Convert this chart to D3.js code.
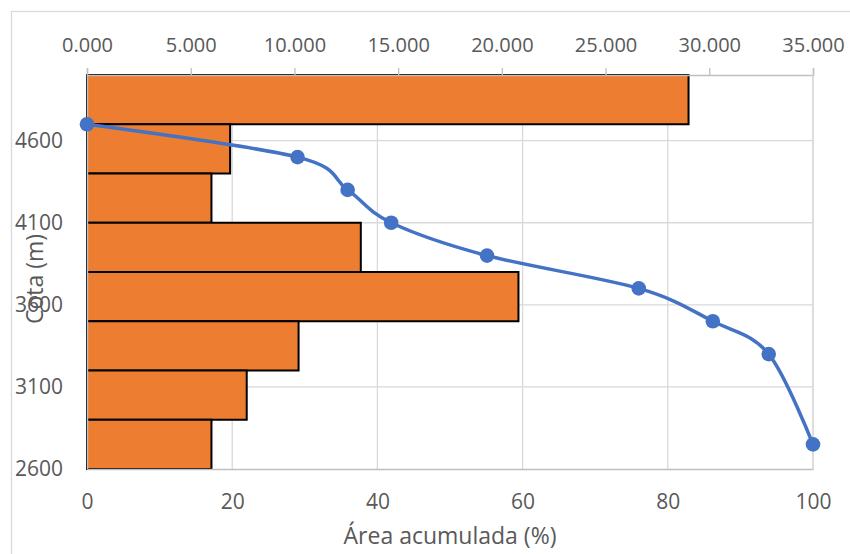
<!DOCTYPE html>
<html>
<head>
<meta charset="utf-8">
<script src="https://cdn.jsdelivr.net/npm/d3@7"></script>
<style>
  html, body { margin: 0; padding: 0; background: #fff; }
  svg { display: block; }
  text { font-family: "Open Sans", "Noto Sans", sans-serif; fill: #595959; }
</style>
</head>
<body>
<svg id="chart" width="850" height="554"></svg>
<script>
// ---- data ----
const bandCategories = ["Banda 1", "Banda 2", "Banda 3", "Banda 4", "Banda 5", "Banda 6", "Banda 7", "Banda 8"];
const bandAreaPct = [29.0, 6.9, 6.0, 13.2, 20.8, 10.2, 7.7, 6.0];
const cumulativeArea = [0, 29.0, 35.9, 41.9, 55.1, 76.0, 86.2, 93.9, 100];
const elevation = [4700, 4500, 4300, 4100, 3900, 3700, 3500, 3300, 2750];
const topTicks = [0, 5, 10, 15, 20, 25, 30, 35];
const bottomTicks = [0, 20, 40, 60, 80, 100];
const leftTicks = [2600, 3100, 3600, 4100, 4600];
const xTitle = "Área acumulada (%)";
const yTitle = "Cota (m)";

// ---- layout ----
const L = 87, R = 813, T = 75, B = 469;
const svg = d3.select("#chart");

// chart border
svg.append("rect").attr("x", 11.5).attr("y", 11.5).attr("width", 900).attr("height", 600)
  .attr("fill", "none").attr("stroke", "#d9d9d9").attr("stroke-width", 1.3);

const xTop = d3.scaleLinear().domain([0, 35]).range([L, R]);
const xBot = d3.scaleLinear().domain([0, 100]).range([L, R]);
const y = d3.scaleLinear().domain([2600, 5000]).range([B, T]);
const yBand = d3.scaleBand().domain(bandCategories).range([T, B]).padding(0);

// gridlines
const grid = svg.append("g").attr("stroke", "#d9d9d9").attr("stroke-width", 1.3);
grid.selectAll(".gv").data(bottomTicks.filter(d => d > 0)).join("line")
  .attr("x1", d => xBot(d)).attr("x2", d => xBot(d)).attr("y1", T).attr("y2", B);
grid.selectAll(".gh").data(leftTicks.filter(d => d > 2600)).join("line")
  .attr("x1", L).attr("x2", R).attr("y1", d => y(d)).attr("y2", d => y(d));

// bars
svg.append("g").selectAll("rect").data(bandAreaPct).join("rect")
  .attr("x", xTop(0))
  .attr("y", (d, i) => yBand(bandCategories[i]))
  .attr("width", d => xTop(d) - xTop(0))
  .attr("height", yBand.bandwidth())
  .attr("fill", "#ED7D31")
  .attr("stroke", "#000").attr("stroke-width", 2);

// axes
const axisColor = "#bfbfbf";
const gTop = svg.append("g").attr("transform", `translate(0,${T})`)
  .call(d3.axisTop(xTop).tickValues(topTicks).tickFormat(d3.format(".3f")).tickSize(7).tickPadding(16));
const gBot = svg.append("g").attr("transform", `translate(0,${B})`)
  .call(d3.axisBottom(xBot).tickValues(bottomTicks).tickFormat(d3.format("d")).tickSize(0).tickPadding(25));
const gLeft = svg.append("g").attr("transform", `translate(${L},0)`)
  .call(d3.axisLeft(y).tickValues(leftTicks).tickFormat(d3.format("d")).tickSize(0).tickPadding(24));

[gTop, gBot, gLeft].forEach(g => {
  g.select(".domain").attr("stroke", axisColor).attr("stroke-width", 1.5);
  g.selectAll(".tick line").attr("stroke", axisColor).attr("stroke-width", 1.3);
  g.selectAll(".tick text").attr("fill", "#595959").style("font-size", "21px")
    .style("font-family", '"Open Sans", sans-serif');
});
gTop.selectAll(".tick text").style("font-size", "20px");

// right edge gridline (100)
svg.append("line").attr("x1", xBot(100)).attr("x2", xBot(100)).attr("y1", T).attr("y2", B)
  .attr("stroke", "#d9d9d9").attr("stroke-width", 1.3);

// line series
const pts = cumulativeArea.map((c, i) => [xBot(c), y(elevation[i])]);
svg.append("path")
  .attr("d", d3.line().curve(d3.curveCatmullRom.alpha(0))(pts))
  .attr("fill", "none").attr("stroke", "#4472C4").attr("stroke-width", 3.5);
svg.append("g").selectAll("circle").data(pts).join("circle")
  .attr("cx", d => d[0]).attr("cy", d => d[1]).attr("r", 7.3)
  .attr("fill", "#4472C4");

// titles
svg.append("text").attr("x", (L + R) / 2).attr("y", 544).attr("text-anchor", "middle")
  .style("font-size", "23px").text(xTitle);
svg.append("text").attr("transform", `translate(43,279) rotate(-90)`)
  .attr("text-anchor", "middle").style("font-size", "23px").text(yTitle);
</script>
</body>
</html>
